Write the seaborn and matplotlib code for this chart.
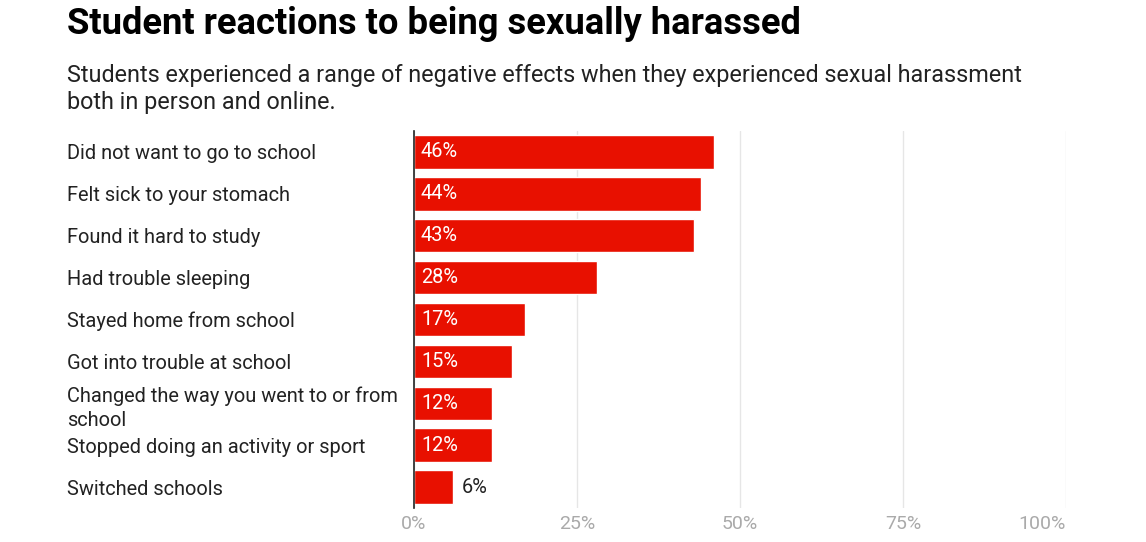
import matplotlib
matplotlib.use("Agg")
import matplotlib.pyplot as plt
import seaborn as sns
import pandas as pd

# === Data ===
reactions = [
    "Did not want to go to school",
    "Felt sick to your stomach",
    "Found it hard to study",
    "Had trouble sleeping",
    "Stayed home from school",
    "Got into trouble at school",
    "Changed the way you went to or from\nschool",
    "Stopped doing an activity or sport",
    "Switched schools",
]
shares = [46, 44, 43, 28, 17, 15, 12, 12, 6]
x_ticks = [0, 25, 50, 75, 100]
x_tick_labels = ["0%", "25%", "50%", "75%", "100%"]

df = pd.DataFrame({"reaction": reactions, "share": shares})

sns.set_theme(style="white")
plt.rcParams["font.family"] = ["Roboto", "DejaVu Sans"]

fig = plt.figure(figsize=(11.46, 5.42), dpi=100)
ax = fig.add_axes([414 / 1146, 1 - 508 / 542, 652 / 1146, (508 - 131) / 542])

sns.barplot(data=df, x="share", y="reaction", color="#e81000", saturation=1,
            width=0.8, ax=ax, orient="h")

ax.set_xlim(0, 100)
ax.set_xticks(x_ticks)
ax.set_xticklabels(x_tick_labels, color="#aaaaaa", fontsize=14)
ax.get_xticklabels()[-1].set_ha("right")
ax.set_xlabel("")
ax.set_ylabel("")
ax.grid(axis="x", color="#e6e6e6", linewidth=1)
ax.set_axisbelow(True)
for side in ["top", "right", "bottom"]:
    ax.spines[side].set_visible(False)
ax.spines["left"].set_color("#222222")
ax.spines["left"].set_linewidth(1.2)
ax.tick_params(axis="x", length=0, pad=5)
ax.tick_params(axis="y", length=0, pad=250)
for lab in ax.get_yticklabels():
    lab.set_ha("left")
    lab.set_fontsize(14.4)
    lab.set_color("#222222")
    lab.set_linespacing(1.35)

# value labels
for i, v in enumerate(shares):
    if v >= 10:
        ax.annotate(f"{v}%", (0, i), xytext=(5, 0), textcoords="offset points",
                    ha="left", va="center", color="white", fontsize=14.4)
    else:
        ax.annotate(f"{v}%", (v, i), xytext=(6, 0), textcoords="offset points",
                    ha="left", va="center", color="#222222", fontsize=14.4)

fig.text(67 / 1146, 1 - 24 / 542, "Student reactions to being sexually harassed",
         fontsize=26.2, fontweight="bold", color="black", va="center", ha="left")
fig.text(67 / 1146, 1 - 89 / 542,
         "Students experienced a range of negative effects when they experienced sexual harassment\nboth in person and online.",
         fontsize=16.8, color="#222222", va="center", ha="left", linespacing=1.2)

fig.savefig("out.png", dpi=100, facecolor="white")
